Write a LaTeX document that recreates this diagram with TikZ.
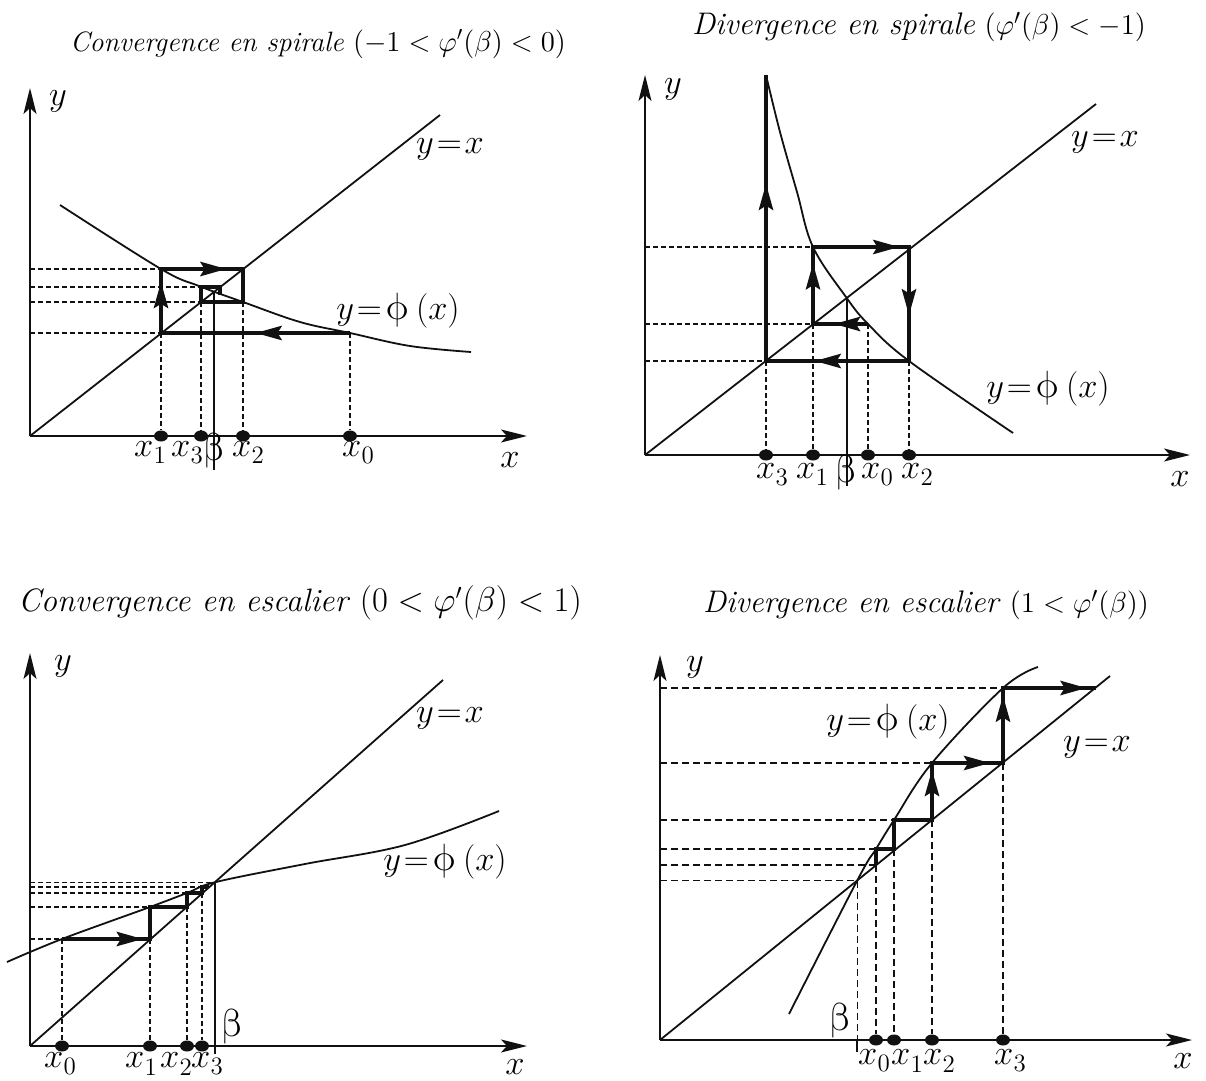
\documentclass[tikz,border=0pt]{standalone}
\usepackage{fontspec}
\usepackage{amsmath}
\usepackage{tikz}
\usetikzlibrary{arrows.meta,positioning,shapes.geometric,decorations.markings,intersections}
\newfontfamily\grk{Latin Modern Math}
\definecolor{ink}{HTML}{111111}
\newcommand{\xsub}[1]{$x$\kern0.2pt\raisebox{-0.5ex}{\fontsize{12.5}{13}\selectfont #1}}
\newcommand{\eqs}{\mkern1.5mu{=}\mkern1.5mu}
\newcommand{\diaglab}{$y\eqs x$}
\newcommand{\philab}{$y\eqs$\kern0.5pt{\grk\fontsize{19}{19}\selectfont ϕ}\kern3pt$(x)$}
\newcommand{\betalab}{{\grk\fontsize{19.5}{19}\selectfont β}}

\begin{document}
\begin{tikzpicture}[x=0.5pt, y=-0.5pt,
  every node/.style={inner sep=0pt},
  axis/.style={line width=0.9pt, draw=ink, -{Stealth[length=13pt,width=6.5pt,inset=3pt]}},
  curve/.style={line width=0.9pt, draw=ink},
  guide/.style={line width=0.6pt, draw=ink, dash pattern=on 2.5pt off 1.5pt},
  guidewide/.style={line width=0.6pt, draw=ink, dash pattern=on 3.5pt off 2pt},
  cobweb/.style={line width=2.2pt, draw=ink, line join=miter},
  tipat/.style={postaction={decorate}, decoration={markings, mark=at position #1 with {\arrow{Stealth[length=13pt,width=7pt,inset=2pt]}}}},
  dot/.style={ellipse, fill=ink, minimum width=7pt, minimum height=5.5pt},
  ttl/.style={font=\fontsize{#1}{17}\selectfont},
  lbl/.style={font=\fontsize{16.5}{19}\selectfont}
]
\useasboundingbox (0,0) rectangle (1206,1081);

% ---------- convergence en spirale
\node[ttl=14] (titleA) at (318,44) {\textit{Convergence en spirale} $(-1<\varphi'(\beta)<0)$};
\coordinate (OA) at (30,436);
\coordinate (ytipA) at (30,88);
\coordinate (xtipA) at (527,436);
\coordinate (lowA) at (0,470);
\coordinate (pA0) at (350,333);
\coordinate (qA1) at (161,333);
\coordinate (pA1) at (161,269);
\coordinate (qA2) at (243,269);
\coordinate (pA2) at (243,302);
\coordinate (qA3) at (201,302);
\coordinate (pA3) at (201,287);
\coordinate (qA4) at (220,287);
\coordinate (pA4) at (220,295);
\node[dot] (dA1) at (qA1 |- OA) {};
\node[dot] (dA3) at (qA3 |- OA) {};
\node[dot] (dA2) at (pA2 |- OA) {};
\node[dot] (dA0) at (pA0 |- OA) {};
\draw[guide] (OA |- pA1) -- (pA1);
\draw[guide] (OA |- pA3) -- (pA3);
\draw[guide] (OA |- qA3) -- (qA3);
\draw[guide] (OA |- qA1) -- (qA1);
\draw[guide] (qA1) -- (dA1);
\draw[guide] (qA3) -- (dA3);
\draw[guide] (pA2) -- (dA2);
\draw[guide] (pA0) -- (dA0);
\draw[axis] (OA) -- (ytipA);
\draw[axis] (OA) -- (xtipA);
\draw[curve, name path=diagA] (OA) -- (440,115);
\draw[curve, name path=phiA] plot[smooth, tension=0.6] coordinates {(60,205) (161,269) (199,286) (243,302) (300,322) (350,333) (410,346) (471,352)};
\path[name intersections={of=phiA and diagA, by=betaA}];
\draw[curve] (betaA) -- (betaA |- lowA);
\draw[cobweb] (pA0) -- (qA1) -- (pA1) -- (qA2) -- (pA2) -- (qA3) -- (pA3) -- (qA4) -- (pA4);
\draw[cobweb, tipat=0.5] (pA0) -- (qA1);
\draw[cobweb, tipat=0.8] (qA1) -- (pA1);
\draw[cobweb, tipat=0.8] (pA1) -- (qA2);
\node[lbl] (ylabA) at (58,101) {$y$};
\node[lbl] (xlabA) at (510,460) {$x$};
\node[lbl] (diaglabA) at (450,149) {\diaglab};
\node[lbl] (philabA) at (398,311) {\philab};
\node[lbl] (xA1) at (150,453) {\xsub{1}};
\node[lbl] (xA3) at (187,453) {\xsub{3}};
\node[lbl] (bA) at (214,451) {\betalab};
\node[lbl] (xA2) at (248,453) {\xsub{2}};
\node[lbl] (xA0) at (358,453) {\xsub{0}};

% ---------- divergence en spirale
\node[ttl=15.6] (titleB) at (919,27) {\textit{Divergence en spirale} $(\varphi'(\beta)<-1)$};
\coordinate (OB) at (645,455);
\coordinate (ytipB) at (645,75);
\coordinate (xtipB) at (1190,455);
\coordinate (lowB) at (0,486);
\coordinate (pB0) at (868,324);
\coordinate (qB1) at (813,324);
\coordinate (pB1) at (813,247);
\coordinate (qB2) at (909,247);
\coordinate (pB2) at (909,361);
\coordinate (qB3) at (766,361);
\coordinate (pB3) at (766,75);
\node[dot] (dB3) at (qB3 |- OB) {};
\node[dot] (dB1) at (qB1 |- OB) {};
\node[dot] (dB0) at (pB0 |- OB) {};
\node[dot] (dB2) at (pB2 |- OB) {};
\draw[guide] (OB |- pB1) -- (pB1);
\draw[guide] (OB |- qB1) -- (qB1);
\draw[guide] (OB |- qB3) -- (qB3);
\draw[guide] (qB3) -- (dB3);
\draw[guide] (qB1) -- (dB1);
\draw[guide] (pB0) -- (dB0);
\draw[guide] (pB2) -- (dB2);
\draw[axis] (OB) -- (ytipB);
\draw[axis] (OB) -- (xtipB);
\draw[curve, name path=diagB] (OB) -- (1096,104);
\draw[curve, name path=phiB] plot[smooth, tension=0.6] coordinates {(766,75) (780,132) (797,192) (813,247) (846,297) (868,324) (909,361) (1013,433)};
\path[name intersections={of=phiB and diagB, by=betaB}];
\draw[curve] (betaB) -- (betaB |- lowB);
\draw[cobweb] (pB0) -- (qB1) -- (pB1) -- (qB2) -- (pB2) -- (qB3) -- (pB3);
\draw[cobweb, tipat=0.62] (pB0) -- (qB1);
\draw[cobweb, tipat=0.79] (qB1) -- (pB1);
\draw[cobweb, tipat=0.9] (pB1) -- (qB2);
\draw[cobweb, tipat=0.6] (qB2) -- (pB2);
\draw[cobweb, tipat=0.66] (pB2) -- (qB3);
\draw[cobweb, tipat=0.62] (qB3) -- (pB3);
\node[lbl] (ylabB) at (673,89) {$y$};
\node[lbl] (xlabB) at (1180,479) {$x$};
\node[lbl] (diaglabB) at (1105,142) {\diaglab};
\node[lbl] (philabB) at (1048,389) {\philab};
\node[lbl] (xB3) at (772,475) {\xsub{3}};
\node[lbl] (xB1) at (812,475) {\xsub{1}};
\node[lbl] (bB) at (846,473) {\betalab};
\node[lbl] (xB0) at (877,475) {\xsub{0}};
\node[lbl] (xB2) at (917,475) {\xsub{2}};

% ---------- convergence en escalier
\node[ttl=16.2] (titleC) at (300,603) {\textit{Convergence en escalier} $(0<\varphi'(\beta)<1)$};
\coordinate (OC) at (30,1046);
\coordinate (ytipC) at (30,653);
\coordinate (xtipC) at (527,1046);
\coordinate (lowC) at (0,1054);
\coordinate (pC0) at (62,939);
\coordinate (qC1) at (150,939);
\coordinate (pC1) at (150,907);
\coordinate (qC2) at (187,907);
\coordinate (pC2) at (187,893);
\coordinate (qC3) at (202,893);
\coordinate (pC3) at (202,887);
\coordinate (qC4) at (209,887);
\node[dot] (dC0) at (pC0 |- OC) {};
\node[dot] (dC1) at (qC1 |- OC) {};
\node[dot] (dC2) at (qC2 |- OC) {};
\node[dot] (dC3) at (qC3 |- OC) {};
\draw[axis] (OC) -- (ytipC);
\draw[axis] (OC) -- (xtipC);
\draw[curve, name path=diagC] (OC) -- (443,680);
\draw[curve, name path=phiC] plot[smooth, tension=0.6] coordinates {(7,962) (62,939) (150,907) (187,893) (216,882) (305,864) (405,845) (499,811)};
\path[name intersections={of=phiC and diagC, by=betaC}];
\draw[guide] (OC |- pC0) -- (pC0);
\draw[guide] (OC |- pC1) -- (pC1);
\draw[guide] (OC |- pC2) -- (pC2);
\draw[guide] (OC |- pC3) -- (pC3);
\draw[guide] (OC |- betaC) -- (betaC);
\draw[guide] (pC0) -- (dC0);
\draw[guide] (qC1) -- (dC1);
\draw[guide] (qC2) -- (dC2);
\draw[guide] (qC3) -- (dC3);
\draw[curve] (betaC) -- (betaC |- lowC);
\draw[cobweb] (pC0) -- (qC1) -- (pC1) -- (qC2) -- (pC2) -- (qC3) -- (pC3) -- (qC4);
\draw[cobweb, tipat=0.92] (pC0) -- (qC1);
\node[lbl] (ylabC) at (63,666) {$y$};
\node[lbl] (xlabC) at (515,1067) {$x$};
\node[lbl] (diaglabC) at (450,718) {\diaglab};
\node[lbl] (philabC) at (445,862) {\philab};
\node[lbl] (xC0) at (60,1064) {\xsub{0}};
\node[lbl] (xC1) at (141,1064) {\xsub{1}};
\node[lbl] (xC2) at (176,1064) {\xsub{2}};
\node[lbl] (xC3) at (207,1064) {\xsub{3}};
\node[lbl] (bC) at (232,1027) {\betalab};

% ---------- divergence en escalier
\node[ttl=15.6] (titleD) at (926,605) {\textit{Divergence en escalier} $(1<\varphi'(\beta))$};
\coordinate (OD) at (660,1040);
\coordinate (ytipD) at (660,655);
\coordinate (xtipD) at (1192,1040);
\coordinate (lowD) at (0,1052);
\coordinate (sD0) at (876,865);
\coordinate (pD0) at (876,849);
\coordinate (qD1) at (894,849);
\coordinate (pD1) at (894,820);
\coordinate (qD2) at (932,820);
\coordinate (pD2) at (932,763);
\coordinate (qD3) at (1003,763);
\coordinate (pD3) at (1003,688);
\coordinate (qD4) at (1096,688);
\node[dot] (dD0) at (sD0 |- OD) {};
\node[dot] (dD1) at (qD1 |- OD) {};
\node[dot] (dD2) at (qD2 |- OD) {};
\node[dot] (dD3) at (qD3 |- OD) {};
\draw[axis] (OD) -- (ytipD);
\draw[axis] (OD) -- (xtipD);
\draw[curve, name path=diagD] (OD) -- (1110,676);
\draw[curve, name path=phiD] plot[smooth, tension=0.6] coordinates {(789,1014) (858,879) (876,849) (894,820) (932,763) (1003,688) (1038,667)};
\path[name intersections={of=phiD and diagD, by=betaD}];
\draw[guidewide] (OD |- pD3) -- (pD3);
\draw[guidewide] (OD |- pD2) -- (pD2);
\draw[guidewide] (OD |- pD1) -- (pD1);
\draw[guidewide] (OD |- pD0) -- (pD0);
\draw[guidewide] (OD |- sD0) -- (sD0);
\draw[guidewide] (OD |- betaD) -- (betaD);
\draw[guidewide] (sD0) -- (dD0);
\draw[guidewide] (qD1) -- (dD1);
\draw[guidewide] (qD2) -- (dD2);
\draw[guidewide] (qD3) -- (dD3);
\draw[guidewide] (betaD) -- (betaD |- OD);
\draw[curve] (betaD |- OD) -- (betaD |- lowD);
\draw[cobweb] (sD0) -- (pD0) -- (qD1) -- (pD1) -- (qD2) -- (pD2) -- (qD3) -- (pD3) -- (qD4);
\draw[cobweb, tipat=0.88] (qD2) -- (pD2);
\draw[cobweb, tipat=0.82] (pD2) -- (qD3);
\draw[cobweb, tipat=0.9] (qD3) -- (pD3);
\draw[cobweb, tipat=0.9] (pD3) -- (qD4);
\node[lbl] (ylabD) at (695,667) {$y$};
\node[lbl] (xlabD) at (1183,1061) {$x$};
\node[lbl] (diaglabD) at (1097,747) {\diaglab};
\node[lbl] (philabD) at (888,722) {\philab};
\node[lbl] (xD0) at (874,1061) {\xsub{0}};
\node[lbl] (xD1) at (907,1061) {\xsub{1}};
\node[lbl] (xD2) at (939,1061) {\xsub{2}};
\node[lbl] (xD3) at (1010,1061) {\xsub{3}};
\node[lbl] (bD) at (840,1021) {\betalab};
\end{tikzpicture}
\end{document}
